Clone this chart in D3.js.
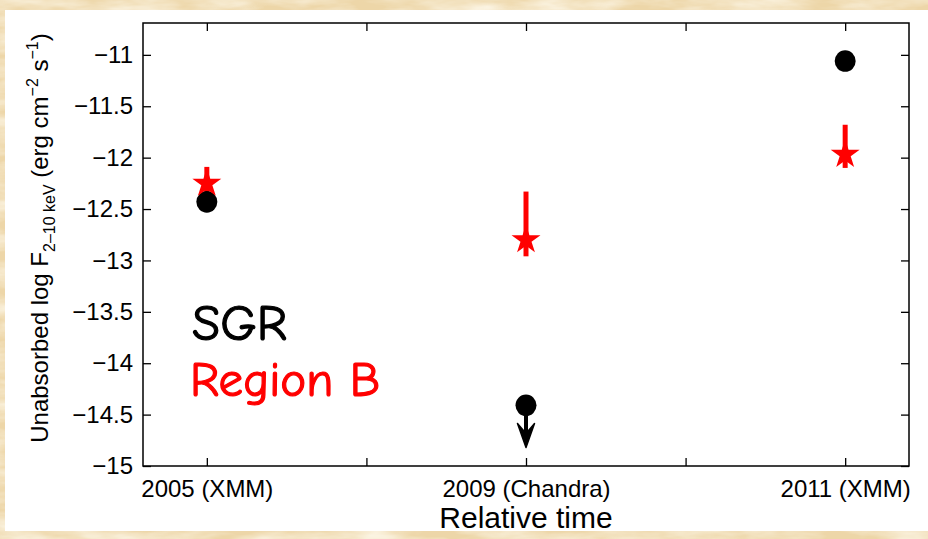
<!DOCTYPE html>
<html lang="en">
<head>
  <meta charset="UTF-8">
  <title>Unabsorbed flux vs relative time</title>
  <script src="https://cdn.jsdelivr.net/npm/d3@7"></script>
  <style>
    body { margin: 0; background: #efdcb0; }
    svg { display: block; }
  </style>
</head>
<body>
  <svg width="928" height="539"></svg>
  <script>
    // tick positions along the x axis and their labels (only every other one is labelled)
    var xTickValues = [1, 2, 3, 4, 5];
    var xTickLabels = ['2005 (XMM)', '', '2009 (Chandra)', '', '2011 (XMM)'];
    var yTickValues = [-15, -14.5, -14, -13.5, -13, -12.5, -12, -11.5, -11];

    // observations
    var epochs = [1, 3, 5];
    var sgrFlux = [-12.43, -14.41, -11.06];
    var sgrUpperLimit = [false, true, false];
    var sgrArrowTip = -14.82;
    var regionBFlux = [-12.25, -12.80, -11.97];
    var regionBHigh = [-12.09, -12.33, -11.68];
    var regionBLow = [-12.40, -12.96, -12.10];

    var svg = d3.select('svg');
    var width = +svg.attr('width');
    var height = +svg.attr('height');
    var font = '"Liberation Sans", Arial, Helvetica, sans-serif';

    // parchment background
    var defs = svg.append('defs');
    var paper = defs.append('filter').attr('id', 'paper')
      .attr('x', 0).attr('y', 0).attr('width', 1).attr('height', 1);
    paper.append('feTurbulence')
      .attr('type', 'fractalNoise')
      .attr('baseFrequency', '0.015 0.06')
      .attr('numOctaves', 4)
      .attr('seed', 7);
    paper.append('feColorMatrix')
      .attr('type', 'matrix')
      .attr('values', '0 0 0 0 1  0 0 0 0 0.97  0 0 0 0 0.88  1.5 0 0 0 -0.5');

    svg.append('rect').attr('width', width).attr('height', height).attr('fill', '#edd6a8');
    svg.append('rect').attr('width', width).attr('height', height).attr('filter', 'url(#paper)');

    // white figure panel
    svg.append('rect')
      .attr('x', 5).attr('y', 10)
      .attr('width', width - 5).attr('height', 521)
      .attr('fill', '#fff');

    var plot = { left: 143, right: 909, top: 23, bottom: 466 };

    var x = d3.scaleLinear().domain([0.6, 5.4]).range([plot.left, plot.right]);
    var y = d3.scaleLinear().domain([-15, -10.69]).range([plot.bottom, plot.top]);

    function styleAxis(g) {
      g.select('.domain').remove();
      g.selectAll('.tick line').attr('stroke', '#000').attr('stroke-width', 1.3);
      g.selectAll('.tick text').attr('fill', '#000')
        .style('font-family', font).style('font-size', '24px');
    }

    svg.append('g')
      .attr('transform', 'translate(0,' + plot.bottom + ')')
      .call(d3.axisBottom(x).tickValues(xTickValues).tickSize(-8).tickPadding(14)
        .tickFormat(function(d, i) { return xTickLabels[i]; }))
      .call(styleAxis);

    svg.append('g')
      .attr('transform', 'translate(0,' + plot.top + ')')
      .call(d3.axisTop(x).tickValues(xTickValues).tickSize(-8).tickFormat(''))
      .call(styleAxis);

    svg.append('g')
      .attr('transform', 'translate(' + plot.left + ',0)')
      .call(d3.axisLeft(y).tickValues(yTickValues).tickSize(-8).tickPadding(10)
        .tickFormat(d3.format('~g')))
      .call(styleAxis);

    svg.append('g')
      .attr('transform', 'translate(' + plot.right + ',0)')
      .call(d3.axisRight(y).tickValues(yTickValues).tickSize(-8).tickFormat(''))
      .call(styleAxis);

    // frame
    svg.append('rect')
      .attr('x', plot.left).attr('y', plot.top)
      .attr('width', plot.right - plot.left).attr('height', plot.bottom - plot.top)
      .attr('fill', 'none').attr('stroke', '#000').attr('stroke-width', 1.5);

    // axis titles
    svg.append('text')
      .attr('x', (plot.left + plot.right) / 2)
      .attr('y', 528)
      .attr('text-anchor', 'middle')
      .style('font-family', font).style('font-size', '30px')
      .text('Relative time');

    var yTitle = svg.append('text')
      .attr('transform', 'translate(48,' + 238 + ') rotate(-90)')
      .attr('text-anchor', 'middle')
      .style('font-family', font).style('font-size', '24px');
    yTitle.append('tspan').text('Unabsorbed log F');
    yTitle.append('tspan').attr('dy', 7).style('font-size', '16px').text('2\u201310 keV');
    yTitle.append('tspan').attr('dy', -7).text(' (erg cm');
    yTitle.append('tspan').attr('dy', -10).style('font-size', '16px').text('\u22122');
    yTitle.append('tspan').attr('dy', 10).text(' s');
    yTitle.append('tspan').attr('dy', -10).style('font-size', '16px').text('\u22121');
    yTitle.append('tspan').attr('dy', 10).text(')');

    // Region B error bars
    svg.append('g').selectAll('line')
      .data(epochs)
      .join('line')
      .attr('x1', function(d) { return x(d); })
      .attr('x2', function(d) { return x(d); })
      .attr('y1', function(d, i) { return y(regionBHigh[i]); })
      .attr('y2', function(d, i) { return y(regionBLow[i]); })
      .attr('stroke', '#ff0000')
      .attr('stroke-width', 5);

    // SGR upper-limit arrow
    var arrows = svg.append('g');
    epochs.forEach(function(d, i) {
      if (!sgrUpperLimit[i]) return;
      var cx = x(d), y0 = y(sgrFlux[i]), tip = y(sgrArrowTip);
      arrows.append('line')
        .attr('x1', cx).attr('x2', cx)
        .attr('y1', y0).attr('y2', tip - 6)
        .attr('stroke', '#000').attr('stroke-width', 4);
      arrows.append('path')
        .attr('d', 'M' + cx + ',' + tip +
          'L' + (cx - 8.5) + ',' + (tip - 24) +
          'L' + cx + ',' + (tip - 14) +
          'L' + (cx + 8.5) + ',' + (tip - 24) + 'Z')
        .attr('fill', '#000')
        .attr('stroke', '#000')
        .attr('stroke-width', 1.5)
        .attr('stroke-linejoin', 'round');
    });

    // SGR points
    svg.append('g').selectAll('ellipse')
      .data(epochs)
      .join('ellipse')
      .attr('cx', function(d) { return x(d); })
      .attr('cy', function(d, i) { return y(sgrFlux[i]); })
      .attr('rx', 10.5)
      .attr('ry', 10.8)
      .attr('fill', '#000');

    // Region B stars
    var star = d3.symbol().type(d3.symbolStar).size(260);
    svg.append('g').selectAll('path')
      .data(epochs)
      .join('path')
      .attr('transform', function(d, i) {
        return 'translate(' + x(d) + ',' + y(regionBFlux[i]) + ')';
      })
      .attr('d', star)
      .attr('fill', '#ff0000');

    // legend labels
    var legendFont = '"Comic Sans MS", "Comic Neue", "DejaVu Sans", sans-serif';
    svg.append('text')
      .attr('x', 192).attr('y', 340)
      .style('font-family', legendFont).style('font-size', '51px')
      .attr('fill', '#000').attr('stroke', '#000').attr('stroke-width', 1.2)
      .text('SGR');
    svg.append('text')
      .attr('x', 190).attr('y', 396)
      .style('font-family', legendFont).style('font-size', '49px')
      .attr('fill', '#ff0000').attr('stroke', '#ff0000').attr('stroke-width', 1.2)
      .text('Region B');
  </script>
</body>
</html>
